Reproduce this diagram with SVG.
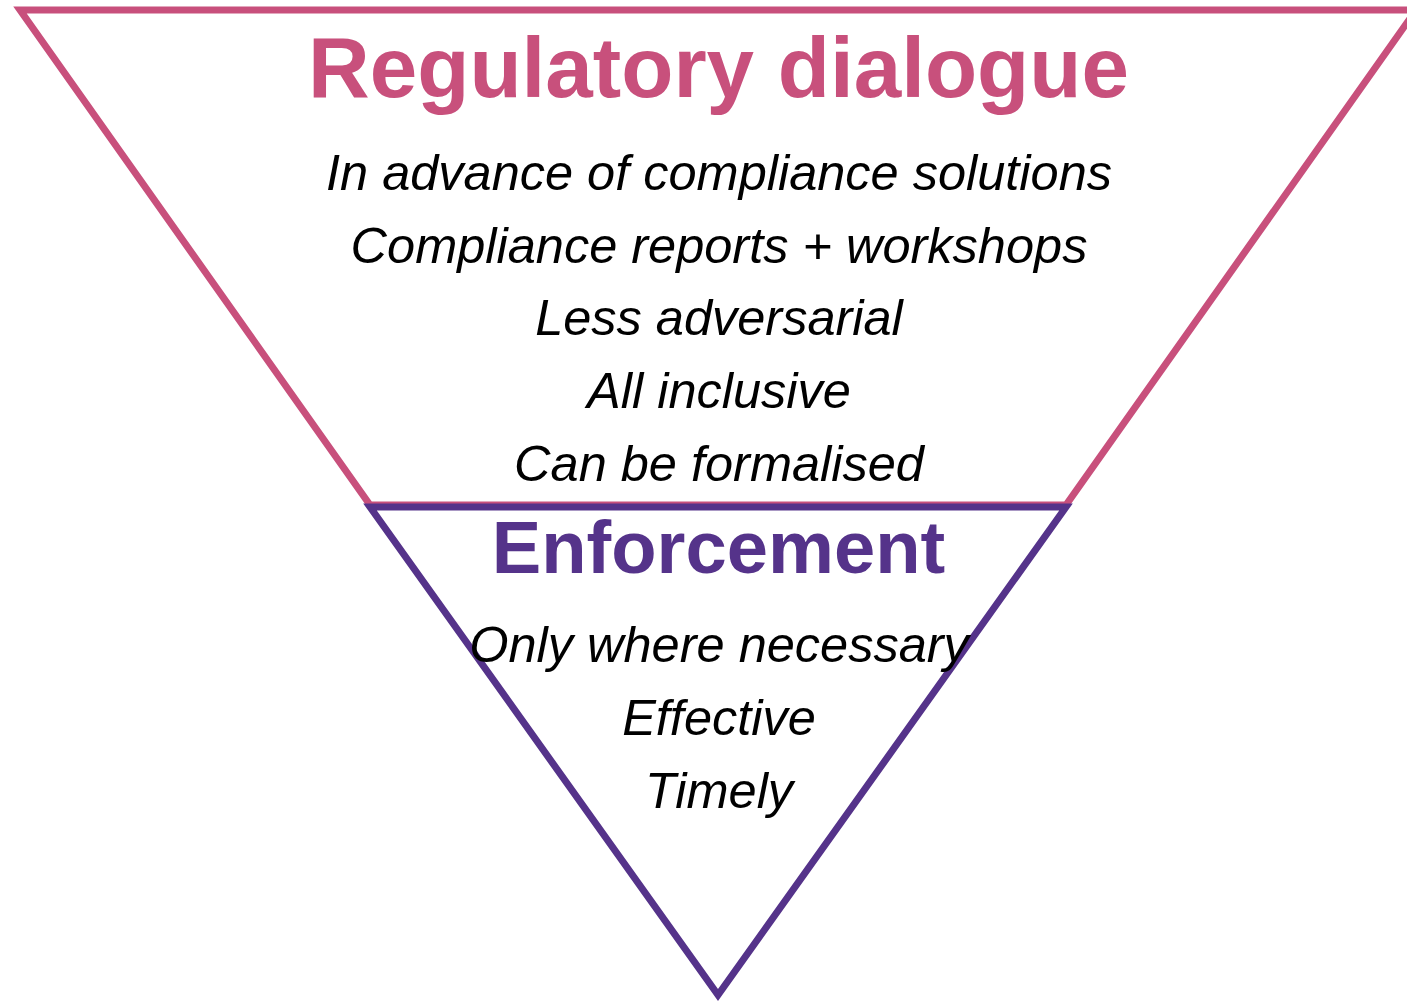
<svg xmlns="http://www.w3.org/2000/svg" width="1407" height="1002" viewBox="0 0 1407 1002">
  <style>
    .frame { fill: none; stroke-width: 7; stroke-linejoin: miter; }
    .title { font-family: "Liberation Sans", Arial, sans-serif; font-weight: bold; text-anchor: middle; }
    .item { font-family: "Liberation Sans", Arial, sans-serif; font-style: italic; font-size: 50.5px; fill: #000; text-anchor: middle; }
  </style>
  <rect width="1407" height="1002" fill="#fff"/>
  <!-- upper band: regulatory dialogue -->
  <g id="dialogue">
    <polygon class="frame" stroke="#C8507C" points="20,10 1416,10 1066,505 370,505"/>
    <text class="title" x="718.5" y="97" font-size="85.4" fill="#C8507C">Regulatory dialogue</text>
    <text class="item" x="719" y="190">In advance of compliance solutions</text>
    <text class="item" x="719" y="263">Compliance reports + workshops</text>
    <text class="item" x="719" y="335">Less adversarial</text>
    <text class="item" x="719" y="408">All inclusive</text>
    <text class="item" x="719" y="481">Can be formalised</text>
  </g>
  <!-- lower tip: enforcement -->
  <g id="enforcement">
    <polygon class="frame" stroke="#55338A" points="370,507 1066,507 718,995"/>
    <text class="title" x="718.5" y="573" font-size="74.2" fill="#55338A">Enforcement</text>
    <text class="item" x="719" y="662">Only where necessary</text>
    <text class="item" x="719" y="735">Effective</text>
    <text class="item" x="719" y="808">Timely</text>
  </g>
</svg>
